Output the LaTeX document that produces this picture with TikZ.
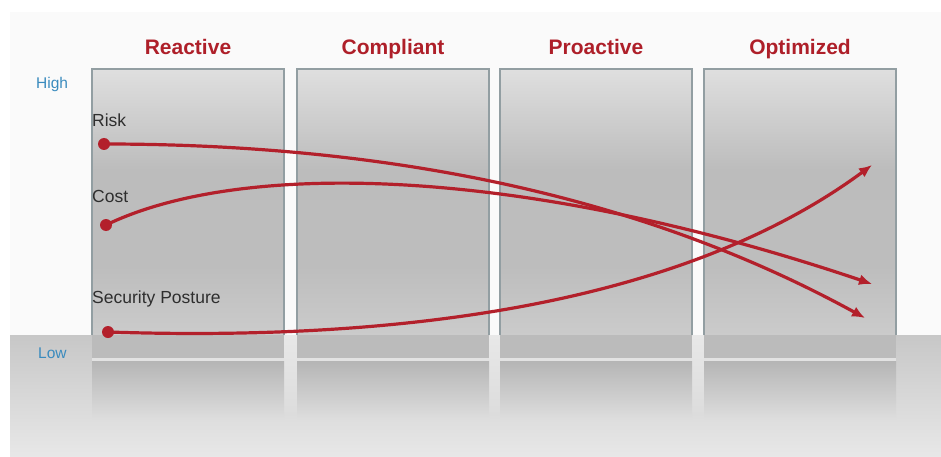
\documentclass[tikz,border=0pt]{standalone}
\usepackage{fontspec}
\setmainfont{Liberation Sans}
\usetikzlibrary{arrows.meta}
\definecolor{panel}{HTML}{FAFAFA}
\definecolor{bandtop}{HTML}{C7C7C7}
\definecolor{bandbot}{HTML}{E8E8E8}
\definecolor{boxT}{HTML}{DFDFDF}
\definecolor{boxD}{HTML}{BCBCBC}
\definecolor{boxM}{HTML}{BDBDBD}
\definecolor{boxB}{HTML}{CBCBCB}
\definecolor{boxband}{HTML}{BBBBBB}
\definecolor{sepline}{HTML}{E2E2E2}
\definecolor{refltop}{HTML}{B5B5B5}
\definecolor{bandlow}{HTML}{DEDEDE}
\definecolor{gaptop}{HTML}{E8E8E8}
\definecolor{gapbot}{HTML}{DCDCDC}
\definecolor{boxline}{HTML}{929EA2}
\definecolor{linered}{HTML}{B3202B}
\definecolor{hdrred}{HTML}{AE1F29}
\definecolor{axblue}{HTML}{3A8BBE}
\definecolor{lblgray}{HTML}{2E2E2E}
\pgfdeclareverticalshading{boxshade}{100bp}{color(0bp)=(boxB); color(25bp)=(boxB); color(38bp)=(boxM); color(45bp)=(boxM); color(56bp)=(boxD); color(75bp)=(boxT); color(100bp)=(boxT)}
\begin{document}
\begin{tikzpicture}[x=1pt,y=-1pt,
  hdr/.style={font=\fontsize{21}{24}\selectfont\bfseries, text=hdrred, inner sep=0, anchor=base},
  lbl/.style={font=\fontsize{17.5}{20}\selectfont, text=lblgray, anchor=base west, inner sep=0},
  axislbl/.style={font=\fontsize{15.5}{18}\selectfont, text=axblue, anchor=base west, inner sep=0},
  dot/.style={circle, fill=linered, minimum size=12pt, inner sep=0},
  trend/.style={draw=linered, line width=3.2pt, -{Latex[length=13pt,width=11pt]}},
  boxedge/.style={draw=boxline, line width=2pt}]
\useasboundingbox (0,0) rectangle (941,457);
\fill[white] (0,0) rectangle (941,457);
\fill[panel] (10,12) rectangle (941,335);
\shade[top color=bandtop,bottom color=bandbot] (10,335) rectangle (941,457);
% gaps reflected in the floor
\foreach \x/\w in {284/13,489/11,692/12}{
  \shade[top color=gaptop,bottom color=gapbot] (\x,335) rectangle ++(\w,80);
}
% the four columns
\foreach \x in {92,297,500,704}{
  \shade[shading=boxshade] (\x,69) rectangle ++(192,266);
  \fill[boxband] (\x,335) rectangle ++(192,23);
  \fill[sepline] (\x,358) rectangle ++(192,3);
  \shade[top color=refltop,bottom color=bandlow] (\x,361) rectangle ++(192,59);
  \draw[boxedge] (\x,335) -- (\x,69) -- ++(192,0) -- ++(0,266);
}
% headers
\node[hdr] (hReactive) at (188,55) {Reactive};
\node[hdr] (hCompliant) at (393,55) {Compliant};
\node[hdr] (hProactive) at (596,55) {Proactive};
\node[hdr] (hOptimized) at (800,55) {Optimized};
% axis labels
\node[axislbl] (high) at (36,89) {High};
\node[axislbl] (low) at (38,358) {Low};
% series labels
\node[lbl] (lRisk) at (92,127) {Risk};
\node[lbl] (lCost) at (92,202) {Cost};
\node[lbl] (lSec) at (92,303) {Security Posture};
% start dots and end points
\node[dot] (rS) at (104,144) {};
\node[dot] (cS) at (106,225) {};
\node[dot] (sS) at (108,332) {};
\coordinate (rE) at (865,318);
\coordinate (cE) at (872,284);
\coordinate (sE) at (872,165);
% trend curves
\draw[trend] (rS.center) .. controls (400,144) and (650,200) .. (rE);
\draw[trend] (cS.center) .. controls (240,160) and (520,165) .. (cE);
\draw[trend] (sS.center) .. controls (500,345) and (730,270) .. (sE);
\end{tikzpicture}
\end{document}
